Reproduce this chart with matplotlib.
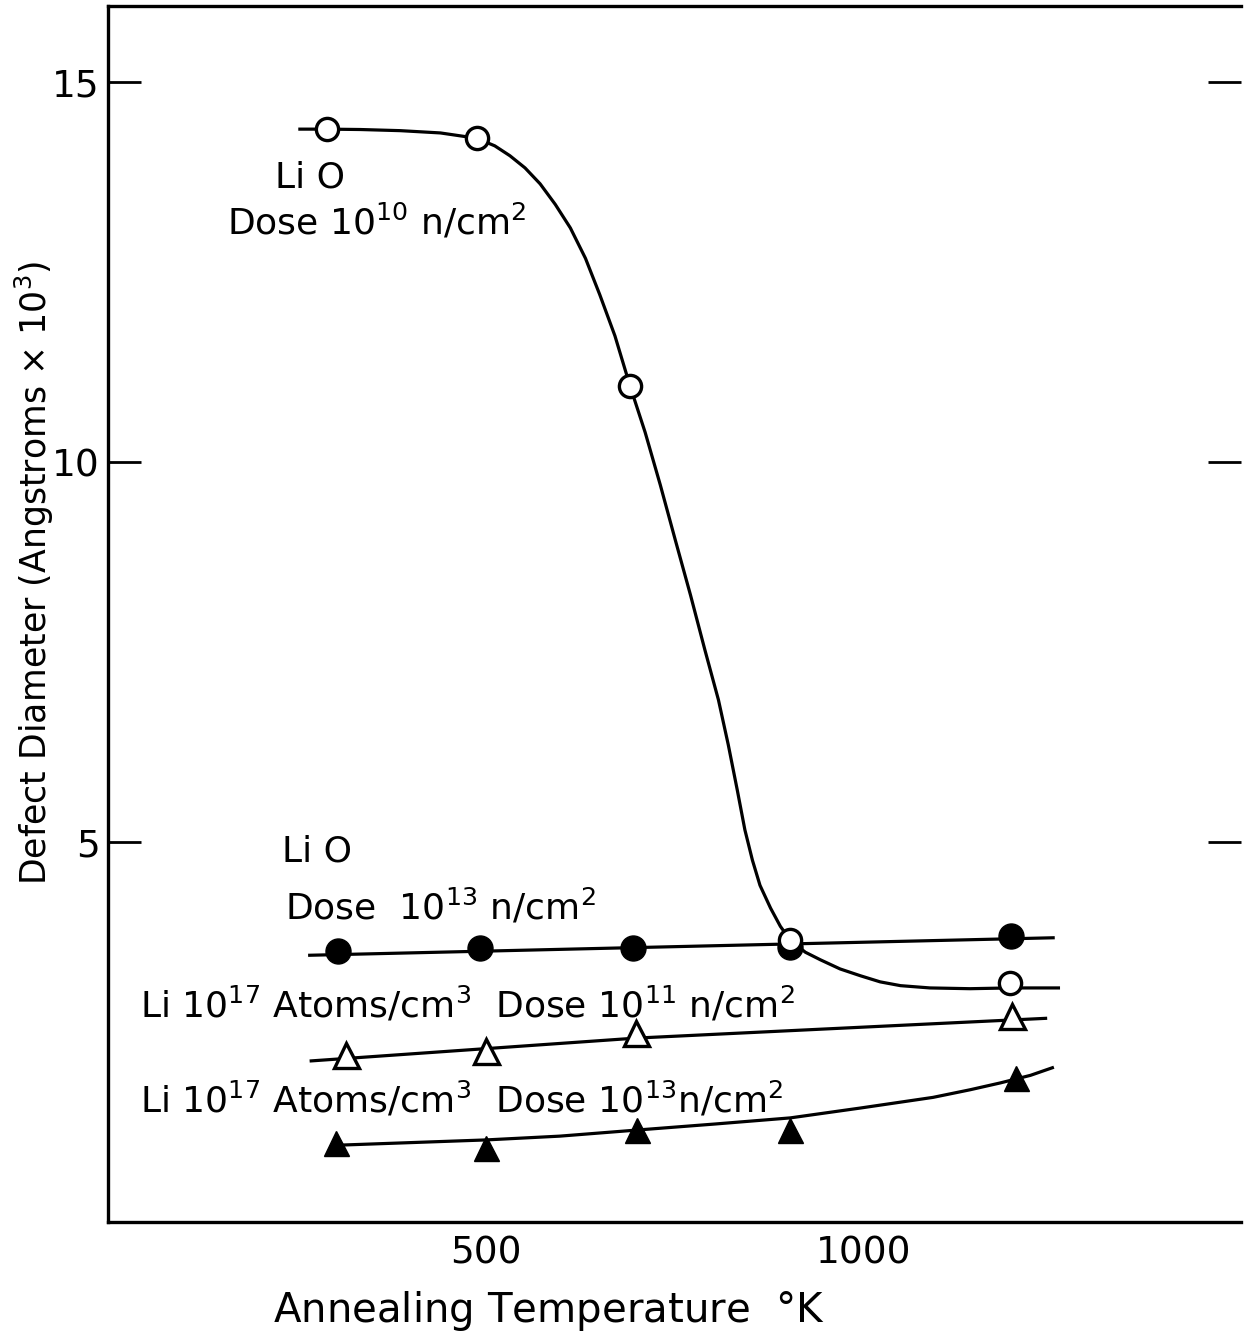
import matplotlib.pyplot as plt

plt.rcParams['font.family'] = ['DejaVu Sans']
plt.rcParams['mathtext.fontset'] = 'dejavusans'

# =====================
# Data
# =====================
# Li O, dose 1e10 n/cm2 (open circles)
temp_o10 = [290, 488, 691, 903, 1194]
diam_o10 = [14.38, 14.26, 11.0, 3.71, 3.14]
# hand drawn curve through them
curve_o10_x = [254, 290, 334, 387, 440, 488, 512, 532, 552, 572, 592, 612,
               632, 651, 671, 691, 711, 731, 751, 771, 790, 808, 821, 833,
               843, 853, 863, 877, 890, 903, 923, 943, 969, 996, 1022, 1049,
               1088, 1141, 1194, 1258]
curve_o10_y = [14.38, 14.38, 14.375, 14.36, 14.33, 14.26, 14.16, 14.03, 13.87,
               13.66, 13.39, 13.08, 12.68, 12.20, 11.66, 11.0, 10.39, 9.70,
               8.97, 8.25, 7.53, 6.87, 6.28, 5.68, 5.16, 4.76, 4.43, 4.13,
               3.89, 3.71, 3.55, 3.45, 3.33, 3.24, 3.16, 3.11, 3.08, 3.07,
               3.08, 3.08]

# Li O, dose 1e13 n/cm2 (filled circles)
temp_o13 = [304, 493, 695, 903, 1195]
diam_o13 = [3.56, 3.60, 3.61, 3.62, 3.76]
curve_o13_x = [267, 694, 1251]
curve_o13_y = [3.51, 3.61, 3.74]

# Li 1e17 atoms/cm3, dose 1e11 n/cm2 (open triangles)
temp_li11 = [315, 500, 699, 1197]
diam_li11 = [2.20, 2.25, 2.49, 2.71]
curve_li11_x = [269, 699, 1241]
curve_li11_y = [2.12, 2.42, 2.68]

# Li 1e17 atoms/cm3, dose 1e13 n/cm2 (filled triangles)
temp_li13 = [302, 500, 700, 903, 1202]
diam_li13 = [1.04, 0.97, 1.21, 1.21, 1.89]
curve_li13_x = [302, 387, 500, 598, 700, 804, 903, 996, 1092, 1141, 1181,
                1221, 1250]
curve_li13_y = [1.01, 1.04, 1.08, 1.13, 1.21, 1.29, 1.37, 1.50, 1.64, 1.74,
                1.83, 1.93, 2.03]

x_ticks = [500, 1000]
y_ticks = [5, 10, 15]

# =====================
# Plot
# =====================
fig = plt.figure(figsize=(12.44, 13.37), dpi=100)
ax = fig.add_axes([0.0868, 0.086, 0.911, 0.9095])

lw = 2.3
ax.plot(curve_o10_x, curve_o10_y, color='black', lw=lw)
ax.plot(curve_o13_x, curve_o13_y, color='black', lw=lw)
ax.plot(curve_li11_x, curve_li11_y, color='black', lw=lw)
ax.plot(curve_li13_x, curve_li13_y, color='black', lw=lw)

ax.plot(temp_o13, diam_o13, 'o', ms=18, color='black')
ax.plot(temp_o10, diam_o10, 'o', ms=16, mfc='white', mec='black', mew=2.4)
ax.plot(temp_li11, diam_li11, '^', ms=18, mfc='white', mec='black', mew=2.4)
ax.plot(temp_li13, diam_li13, '^', ms=18, color='black')

# labels on the curves
fs = 26
ax.text(221, 13.61, 'Li O', fontsize=fs, va='baseline')
ax.text(158, 13.0, r'Dose 10$^{10}$ n/cm$^2$', fontsize=fs, va='baseline')
ax.text(230, 4.74, 'Li O', fontsize=fs, va='baseline')
ax.text(234, 3.98, r'Dose  10$^{13}$ n/cm$^2$', fontsize=fs, va='baseline')
ax.text(42, 2.69, r'Li 10$^{17}$ Atoms/cm$^3$  Dose 10$^{11}$ n/cm$^2$',
        fontsize=fs, va='baseline')
ax.text(42, 1.44, r'Li 10$^{17}$ Atoms/cm$^3$  Dose 10$^{13}$n/cm$^2$',
        fontsize=fs, va='baseline')

ax.set_xlim(0, 1500)
ax.set_ylim(0, 16)
ax.set_xticks(x_ticks)
ax.set_yticks(y_ticks)
ax.tick_params(axis='x', length=0, pad=10, labelsize=27)
ax.tick_params(axis='y', direction='in', length=24, width=2, pad=6,
               labelsize=27, right=True)

for s in ['left', 'bottom', 'top']:
    ax.spines[s].set_linewidth(2.4)
ax.spines['right'].set_visible(False)

ax.set_xlabel(r'Annealing Temperature  $\degree$K', fontsize=29)
ax.xaxis.set_label_coords(0.389, -0.055)
ax.set_ylabel(r'Defect Diameter (Angstroms $\times$ 10$^3$)', fontsize=25)
ax.yaxis.set_label_coords(-0.046, 0.534)

plt.savefig('out.png', dpi=100)
